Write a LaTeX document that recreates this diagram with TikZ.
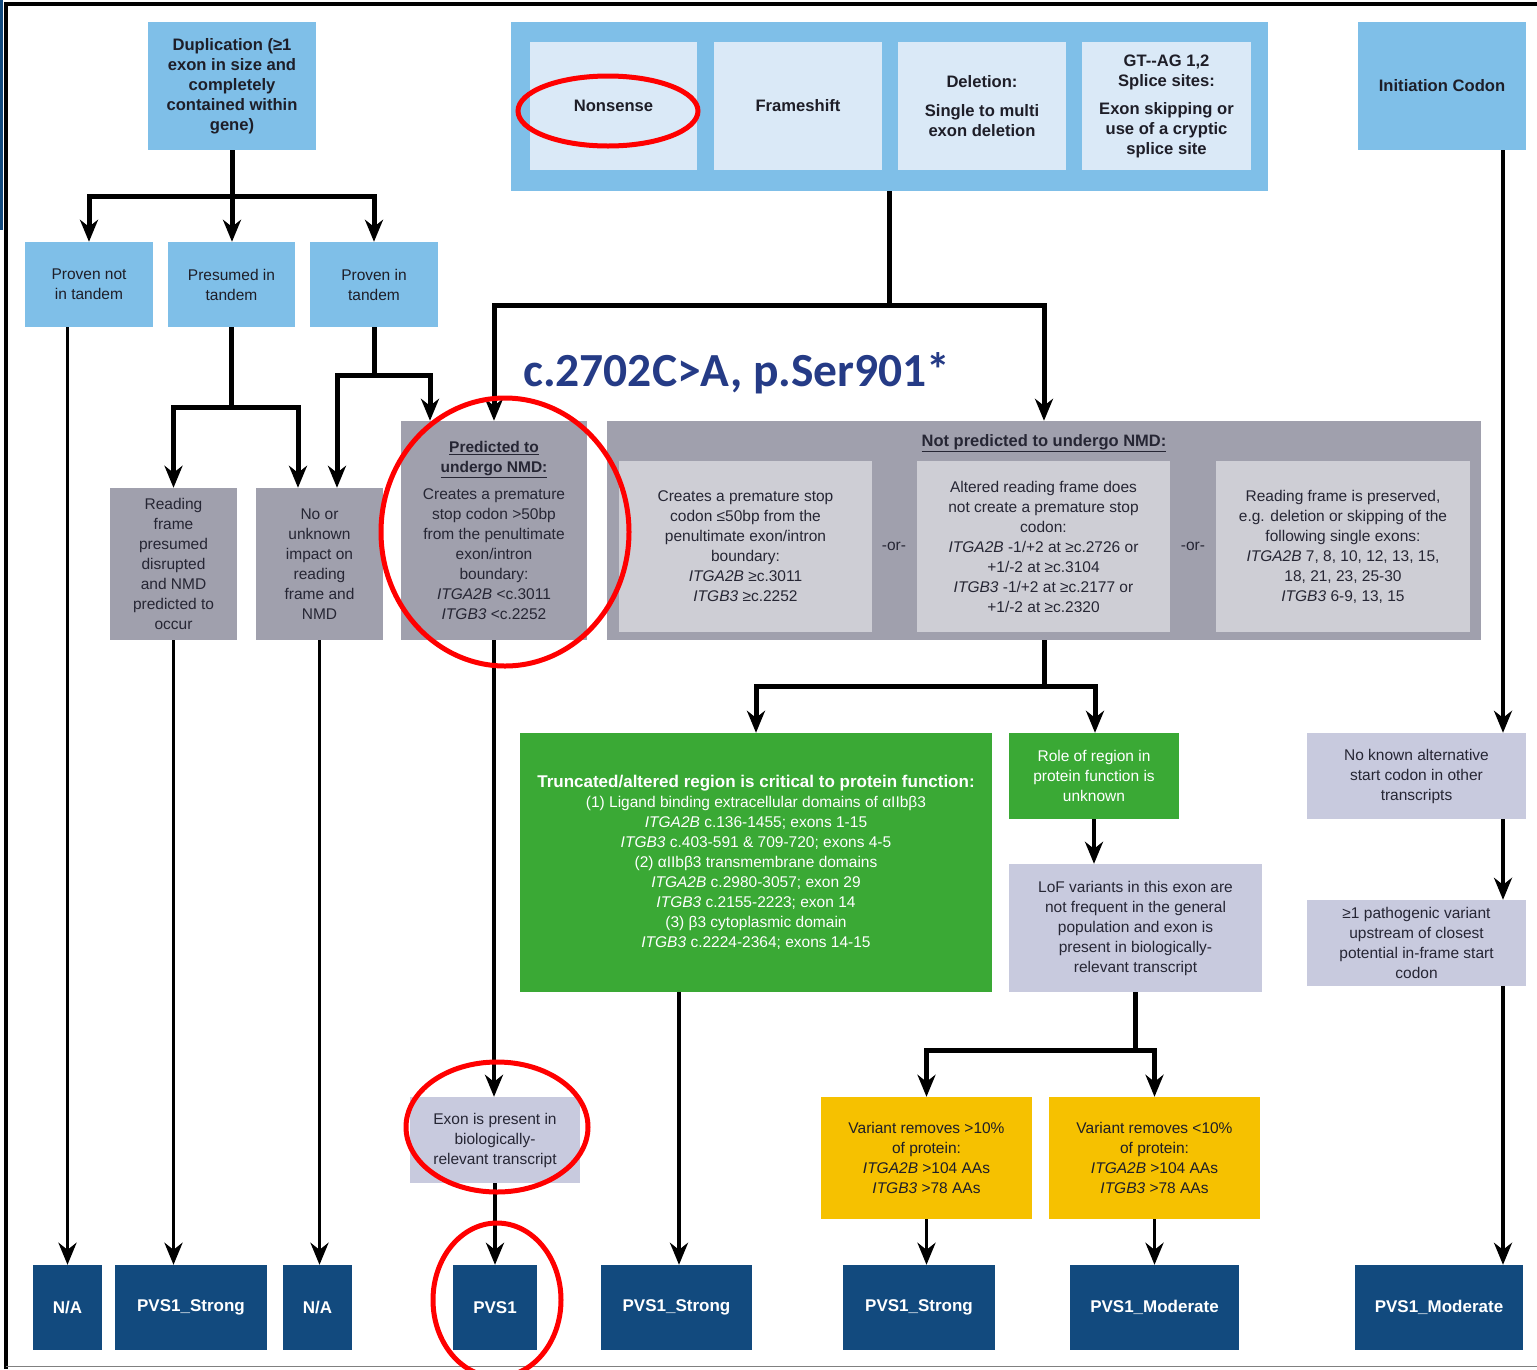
\documentclass[tikz,border=0pt]{standalone}
\usepackage{fontspec}
\setmainfont{Liberation Sans}
\newfontfamily\titlefont{Carlito}
\usetikzlibrary{arrows.meta,calc}

\definecolor{lblue}{HTML}{7FBFE8}
\definecolor{pblue}{HTML}{DAE9F7}
\definecolor{gbox}{HTML}{A0A0AD}
\definecolor{lgray}{HTML}{CECED5}
\definecolor{lav}{HTML}{C8CADE}
\definecolor{grn}{HTML}{3AA935}
\definecolor{ylw}{HTML}{F6C100}
\definecolor{dblue}{HTML}{124A7E}
\definecolor{tblue}{HTML}{253B86}
\definecolor{txt}{HTML}{1E1E28}
\definecolor{gtxt}{HTML}{262634}

\tikzset{
  base/.style={rectangle, inner sep=0pt, align=center, text=txt,
    font=\fontsize{15.5}{20}\selectfont},
  blub/.style={base, fill=lblue, font=\bfseries\fontsize{16.6}{20}\selectfont},
  blun/.style={base, fill=lblue},
  pale/.style={base, fill=pblue, font=\bfseries\fontsize{16.6}{20}\selectfont},
  gry/.style={base, fill=gbox, text=gtxt},
  lgr/.style={base, fill=lgray, text=gtxt},
  lv/.style={base, fill=lav, text=gtxt},
  gr/.style={base, fill=grn, text=white},
  yl/.style={base, fill=ylw},
  res/.style={base, fill=dblue, text=white, minimum height=85,
    font=\bfseries\fontsize{17}{20}\selectfont},
  arr/.style={-{Stealth[length=22pt,width=18pt,inset=7pt]}, line width=3.8pt},
  arrk/.style={arr, line width=5pt},
  ring/.style={draw=red, line width=5pt},
}

\begin{document}
\begin{tikzpicture}[x=1pt, y=-1pt]
\useasboundingbox (0,0) rectangle (1537,1369);
\fill[white] (0,0) rectangle (1537,1369);
% frame
\fill[dblue] (0,0) rectangle (3,230);
\draw[line width=4pt] (6,1369) -- (6,3.5) -- (1537,3.5);
\draw[gray, line width=1.5pt] (6,1366.5) -- (1537,1366.5);

% duplication branch
\node[blub, minimum width=168, minimum height=128] (dup) at (232,86)
  {Duplication (≥1\\exon in size and\\completely\\contained within\\gene)};
\node[blun, minimum width=128, minimum height=85] (pnt) at (89,284.5) {Proven not\\in tandem};
\node[blun, minimum width=127, minimum height=85] (pres) at (231.5,284.5) {Presumed in\\tandem};
\node[blun, minimum width=128, minimum height=85] (pin) at (374,284.5) {Proven in\\tandem};
\node[gry, minimum width=127, minimum height=152] (rf) at (173.5,564)
  {Reading\\frame\\presumed\\disrupted\\and NMD\\predicted to\\occur};
\node[gry, minimum width=127, minimum height=152] (nou) at (319.5,564)
  {No or\\unknown\\impact on\\reading\\frame and\\NMD};
\node[gry, minimum width=186, minimum height=219] (pred) at (494,530.5)
  {\textbf{\underline{Predicted to}}\\\textbf{\underline{undergo NMD:}}\\[7pt]
   Creates a premature\\stop codon >50bp\\from the penultimate\\exon/intron\\boundary:\\
   \textit{ITGA2B} <c.3011\\\textit{ITGB3} <c.2252};

% variant type group
\node[base, fill=lblue, minimum width=757, minimum height=169] (grp) at (889.5,106.5) {};
\node[pale, minimum width=167, minimum height=128] (non) at (613.5,106) {Nonsense};
\node[pale, minimum width=168, minimum height=128] (fs) at (798,106) {Frameshift};
\node[pale, minimum width=168, minimum height=128] (del) at (982,106)
  {Deletion:\\[9pt]Single to multi\\exon deletion};
\node[pale, minimum width=169, minimum height=128] (gt) at (1166.5,106)
  {GT-{}-AG 1,2\\Splice sites:\\[8pt]Exon skipping or\\use of a cryptic\\splice site};
\node[blub, minimum width=168, minimum height=128] (init) at (1442,86) {Initiation Codon};

\node[anchor=base west, inner sep=0pt, text=tblue,
  font=\titlefont\bfseries\fontsize{47.5}{52}\selectfont] (ttl) at (523,386) {c.2702C>A, p.Ser901*};

% not predicted
\node[gry, minimum width=874, minimum height=219] (np) at (1044,530.5) {};
\node[base, text=gtxt, font=\bfseries\fontsize{16.5}{20}\selectfont] (npt) at (1044,443)
  {\underline{Not predicted to undergo NMD:}};
\node[lgr, minimum width=253, minimum height=171] (np1) at (745.5,546.5)
  {Creates a premature stop\\codon ≤50bp from the\\penultimate exon/intron\\boundary:\\
   \textit{ITGA2B} ≥c.3011\\\textit{ITGB3} ≥c.2252};
\node[lgr, minimum width=253, minimum height=171] (np2) at (1043.5,546.5)
  {Altered reading frame does\\not create a premature stop\\codon:\\
   \textit{ITGA2B} -1/+2 at ≥c.2726 or\\+1/-2 at ≥c.3104\\
   \textit{ITGB3} -1/+2 at ≥c.2177 or\\+1/-2 at ≥c.2320};
\node[lgr, minimum width=254, minimum height=171] (np3) at (1343,546.5)
  {Reading frame is preserved,\\e.g. deletion or skipping of the\\following single exons:\\
   \textit{ITGA2B} 7, 8, 10, 12, 13, 15,\\18, 21, 23, 25-30\\\textit{ITGB3} 6-9, 13, 15};
\node[base, text=gtxt] (or1) at (894,546) {-or-};
\node[base, text=gtxt] (or2) at (1193,546) {-or-};

% green / lavender / yellow
\node[gr, minimum width=472, minimum height=259] (green) at (756,862.5)
  {{\bfseries\fontsize{17}{20}\selectfont Truncated/altered region is critical to protein function:}\\
   (1) Ligand binding extracellular domains of αIIbβ3\\
   \textit{ITGA2B} c.136-1455; exons 1-15\\
   \textit{ITGB3} c.403-591 \& 709-720; exons 4-5\\
   (2) αIIbβ3 transmembrane domains\\
   \textit{ITGA2B} c.2980-3057; exon 29\\
   \textit{ITGB3} c.2155-2223; exon 14\\
   (3) β3 cytoplasmic domain\\
   \textit{ITGB3} c.2224-2364; exons 14-15};
\node[gr, minimum width=170, minimum height=86] (role) at (1094,776)
  {Role of region in\\protein function is\\unknown};
\node[lv, minimum width=253, minimum height=128] (lof) at (1135.5,928)
  {LoF variants in this exon are\\not frequent in the general\\population and exon is\\present in biologically-\\relevant transcript};
\node[yl, minimum width=211, minimum height=122] (y1) at (926.5,1158)
  {Variant removes >10\%\\of protein:\\\textit{ITGA2B} >104 AAs\\\textit{ITGB3} >78 AAs};
\node[yl, minimum width=211, minimum height=122] (y2) at (1154.5,1158)
  {Variant removes <10\%\\of protein:\\\textit{ITGA2B} >104 AAs\\\textit{ITGB3} >78 AAs};
\node[lv, minimum width=170, minimum height=86] (exon) at (495,1140)
  {Exon is present in\\biologically-\\relevant transcript};
\node[lv, minimum width=219, minimum height=86] (nka) at (1416.5,776)
  {No known alternative\\start codon in other\\transcripts};
\node[lv, minimum width=219, minimum height=86] (pv) at (1416.5,943)
  {≥1 pathogenic variant\\upstream of closest\\potential in-frame start\\codon};

% results
\node[res, minimum width=69] (b1) at (67.5,1307.5) {N/A};
\node[res, minimum width=152] (b2) at (191,1307.5) {PVS1\_Strong};
\node[res, minimum width=69] (b3) at (317.5,1307.5) {N/A};
\node[res, minimum width=84] (b4) at (495,1307.5) {PVS1};
\node[res, minimum width=151] (b5) at (676.5,1307.5) {PVS1\_Strong};
\node[res, minimum width=152] (b6) at (919,1307.5) {PVS1\_Strong};
\node[res, minimum width=169] (b7) at (1154.5,1307.5) {PVS1\_Moderate};
\node[res, minimum width=168] (b8) at (1439,1307.5) {PVS1\_Moderate};

% connectors
\draw[arrk] (dup.south) -- ++(0,46) -| (pnt.north);
\draw[arrk] (dup.south) -- (dup.south |- pres.north);
\draw[arrk] (dup.south) -- ++(0,46) -| (pin.north);
\draw[arr] (b1.north |- pnt.south) -- (b1.north);
\draw[arrk] (pres.south) -- ++(0,80) -| (rf.north);
\draw[arrk] (pres.south) -- ++(0,80) -| ($(nou.north)+(-21.5,0)$);
\draw[arrk] (pin.south) -- ++(0,48) -| ($(nou.north)+(17.5,0)$);
\draw[arrk] (pin.south) -- ++(0,48) -| ($(pred.north)+(-64,0)$);
\draw[arr] (rf.south) -- (rf.south |- b2.north);
\draw[arr] (nou.south) -- (nou.south |- b3.north);
\draw[arr] (pred.south) -- (pred.south |- exon.north);
\draw[arr] (exon.south) -- (exon.south |- b4.north);
\draw[arrk] (grp.south) -- ++(0,114) -| (pred.north);
\draw[arrk] (grp.south) -- ++(0,114) -| (np.north);
\draw[arrk] (np.south) -- ++(0,46) -| (green.north);
\draw[arrk] (np.south) -- ++(0,46) -| ($(role.north)+(1,0)$);
\draw[arr] (role.south) -- (role.south |- lof.north);
\draw[arr] ($(b5.north |- green.south)+(2.5,0)$) -- ($(b5.north)+(2.5,0)$);
\draw[arrk] (lof.south) -- ++(0,58) -| (y1.north);
\draw[arrk] (lof.south) -- ++(0,58) -| (y2.north);
\draw[arr] (y1.south) -- (y1.south |- b6.north);
\draw[arr] (y2.south) -- (y2.south |- b7.north);
\coordinate (icx) at (1503,0);
\draw[arr] (icx |- init.south) -- (icx |- nka.north);
\draw[arr] (icx |- nka.south) -- (icx |- pv.north);
\draw[arr] (icx |- pv.south) -- (icx |- b8.north);

% red annotation rings
\draw[ring] (608,111) ellipse [x radius=90pt, y radius=35pt];
\draw[ring] (505,532) ellipse [x radius=124pt, y radius=134pt];
\draw[ring] (497,1127) ellipse [x radius=91pt, y radius=65pt];
\draw[ring] (497,1300) ellipse [x radius=64pt, y radius=77pt];
\end{tikzpicture}
\end{document}
